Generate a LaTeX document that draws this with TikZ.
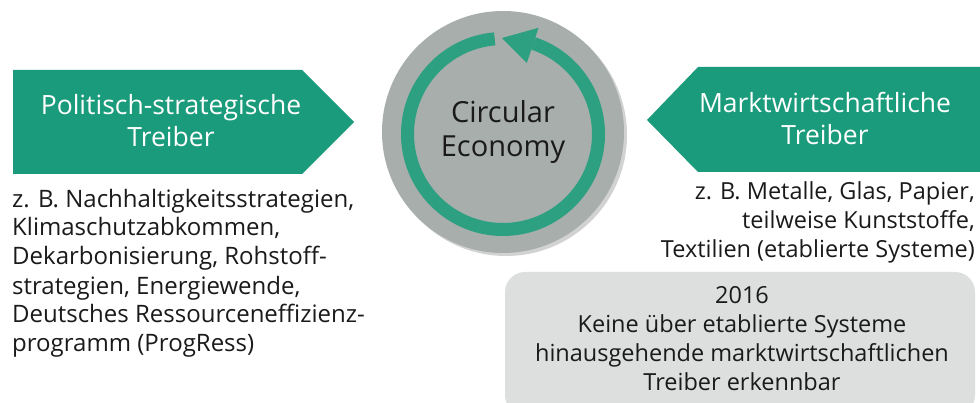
\documentclass[tikz,border=0pt]{standalone}
\usepackage{fontspec}
\setmainfont{Open Sans}
\usetikzlibrary{shadows}
\definecolor{boxgreen}{HTML}{1A9B7B}
\definecolor{ringgreen}{HTML}{2CA080}
\definecolor{circgrey}{HTML}{A7AEAC}
\definecolor{boxgrey}{HTML}{DCDFDE}
\definecolor{txt}{HTML}{1A1A1A}
\begin{document}
\begin{tikzpicture}[x=1pt,y=-1pt,
  boxlbl/.style={text=white, font=\fontsize{26.5}{32}\selectfont, align=center, inner sep=0pt},
  desc/.style={text=txt, font=\fontsize{23.5}{29}\selectfont, inner sep=0pt},
  circlbl/.style={text=txt, font=\fontsize{29}{34}\selectfont, align=center, inner sep=0pt}]
\useasboundingbox (0,0) rectangle (980,403);
\fill[white] (0,0) rectangle (980,403);
% left arrow box
\fill[boxgreen] (13,70) -- (302,70) -- (354,122) -- (302,174) -- (13,174) -- cycle;
% right arrow box
\fill[boxgreen] (980,67) -- (698,67) -- (647,120) -- (698,172) -- (980,172) -- cycle;
% circle
\fill[circgrey, drop shadow={shadow xshift=3pt, shadow yshift=-3pt, opacity=0.35}] (503,132) circle (121);
\begin{scope}[shift={(503,134)}, y=1pt]
  \draw[ringgreen, line width=13pt] (95:95.5) arc[start angle=95, end angle=431.5, radius=95.5];
  \fill[ringgreen] (71.5:75) -- (90.6:96) -- (71.5:112) -- cycle;
\end{scope}
% grey box
\begin{scope}
  \clip (0,0) rectangle (980,403);
  \fill[boxgrey, rounded corners=20pt] (505,272) rectangle (975,415);
\end{scope}
% texts (anchor base = baseline of the last line)
\node[boxlbl, anchor=base] (ltitle) at (171,147) {Politisch-strategische\\Treiber};
\node[boxlbl, anchor=base] (rtitle) at (825,145) {Marktwirtschaftliche\\Treiber};
\node[circlbl, anchor=base] (ce) at (503,157) {Circular\\Economy};
\node[desc, font=\fontsize{24}{29}\selectfont, anchor=base west, align=left] (ldesc) at (12,352) {z. B. Nachhaltigkeitsstrategien,\\Klimaschutzabkommen,\\Dekarbonisierung, Rohstoff-\\strategien, Energiewende,\\Deutsches Ressourceneffizienz-\\programm (ProgRess)};
\node[desc, anchor=base east, align=right] (rdesc) at (975,258) {z. B. Metalle, Glas, Papier,\\teilweise Kunststoffe,\\Textilien (etablierte Systeme)};
\node[desc, anchor=base, align=center] (note) at (742,390) {2016\\Keine über etablierte Systeme\\hinausgehende marktwirtschaftlichen\\Treiber erkennbar};
\end{tikzpicture}
\end{document}
